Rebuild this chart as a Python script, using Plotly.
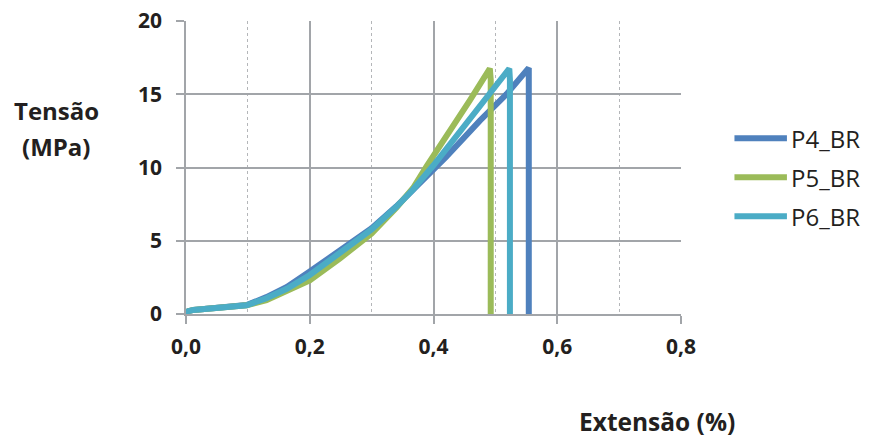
import plotly.graph_objects as go

# Stress–strain curves (strain in %, stress in MPa)
p4_x = [0.0, 0.004, 0.012, 0.05, 0.098, 0.13, 0.163, 0.2, 0.249, 0.3, 0.34, 0.367, 0.4, 0.42, 0.475, 0.518, 0.554, 0.554, 0.554]
p4_y = [0.0, 0.2, 0.28, 0.45, 0.61, 1.15, 1.85, 2.9, 4.3, 5.85, 7.35, 8.45, 9.82, 10.7, 13.2, 15.0, 16.8, 16.0, 0.0]

p5_x = [0.0, 0.004, 0.012, 0.05, 0.098, 0.13, 0.163, 0.2, 0.249, 0.3, 0.34, 0.367, 0.389, 0.4, 0.421, 0.459, 0.491, 0.4925, 0.4925]
p5_y = [0.0, 0.2, 0.28, 0.44, 0.59, 0.95, 1.55, 2.3, 3.8, 5.5, 7.25, 8.6, 10.1, 10.8, 12.1, 14.6, 16.75, 16.0, 0.0]

p6_x = [0.0, 0.004, 0.012, 0.05, 0.098, 0.13, 0.163, 0.2, 0.249, 0.3, 0.34, 0.367, 0.4, 0.421, 0.475, 0.49, 0.5225, 0.5235, 0.5235]
p6_y = [0.0, 0.2, 0.28, 0.45, 0.6, 1.07, 1.72, 2.66, 4.14, 5.77, 7.32, 8.5, 10.15, 11.3, 14.2, 15.0, 16.75, 16.0, 0.0]

series = [
    ("P4_BR", p4_x, p4_y, "#4F81BD"),
    ("P5_BR", p5_x, p5_y, "#9BBB59"),
    ("P6_BR", p6_x, p6_y, "#4BACC6"),
]

x_ticks = [0.0, 0.2, 0.4, 0.6, 0.8]
x_tick_text = ["0,0", "0,2", "0,4", "0,6", "0,8"]
y_ticks = [0, 5, 10, 15, 20]

FONT = "Open Sans"
TXT = "#231F20"
GRID = "#A2A5A9"

fig = go.Figure()
for name, xs, ys, color in series:
    fig.add_trace(go.Scatter(
        x=xs, y=ys, name=name, mode="lines",
        line=dict(color=color, width=6),
        showlegend=False,
    ))

# Legend drawn beside the plot: a line sample and a label per series
legend_rows = [0.600, 0.467, 0.334]
shapes = []
annotations = []
for (name, _, _, color), ly in zip(series, legend_rows):
    shapes.append(dict(type="line", xref="paper", yref="paper",
                       x0=1.108, x1=1.214, y0=ly, y1=ly,
                       line=dict(color=color, width=6)))
    annotations.append(dict(text=name, xref="paper", yref="paper",
                            x=1.219, y=ly, xanchor="left", yanchor="middle",
                            showarrow=False,
                            font=dict(family=FONT, size=24, color=TXT)))

annotations += [
    dict(text="<b>Tensão</b>", xref="paper", yref="paper",
         x=-0.2626, y=0.6955, showarrow=False,
         xanchor="center", yanchor="middle",
         font=dict(family=FONT, size=24, color=TXT)),
    dict(text="<b>(MPa)</b>", xref="paper", yref="paper",
         x=-0.2626, y=0.5728, showarrow=False,
         xanchor="center", yanchor="middle",
         font=dict(family=FONT, size=24, color=TXT)),
    dict(text="<b>Extensão (%)</b>", xref="paper", yref="paper",
         x=0.9515, y=-0.368, showarrow=False,
         xanchor="center", yanchor="middle",
         font=dict(family=FONT, size=24.5, color=TXT)),
]

fig.update_layout(
    width=871, height=440,
    margin=dict(l=186, r=190, t=21, b=126),
    paper_bgcolor="white", plot_bgcolor="white",
    font=dict(family=FONT, color=TXT),
    showlegend=False,
    shapes=shapes,
    annotations=annotations,
)

fig.update_xaxes(
    range=[0, 0.8], tickvals=x_ticks, ticktext=x_tick_text,
    showgrid=True, gridcolor=GRID, gridwidth=1.6,
    showline=True, linecolor=GRID, linewidth=1.6,
    ticks="outside", ticklen=8, tickcolor=GRID, tickwidth=1.6,
    tickfont=dict(family=FONT, size=21, color=TXT, weight="bold"),
    ticklabelstandoff=5,
    minor=dict(dtick=0.2, tick0=0.1, showgrid=True, gridcolor="#B4B6B9",
               gridwidth=1.2, griddash="dot", ticks=""),
    zeroline=False, fixedrange=True, automargin=False,
)
fig.update_yaxes(
    range=[0, 20], tickvals=y_ticks,
    showgrid=True, gridcolor=GRID, gridwidth=1.6,
    showline=True, linecolor=GRID, linewidth=1.6,
    ticks="outside", ticklen=8, tickcolor=GRID, tickwidth=1.6,
    tickfont=dict(family=FONT, size=21, color=TXT, weight="bold"),
    ticklabelstandoff=10,
    zeroline=False, fixedrange=True, automargin=False,
)

fig.write_html("out.html")
